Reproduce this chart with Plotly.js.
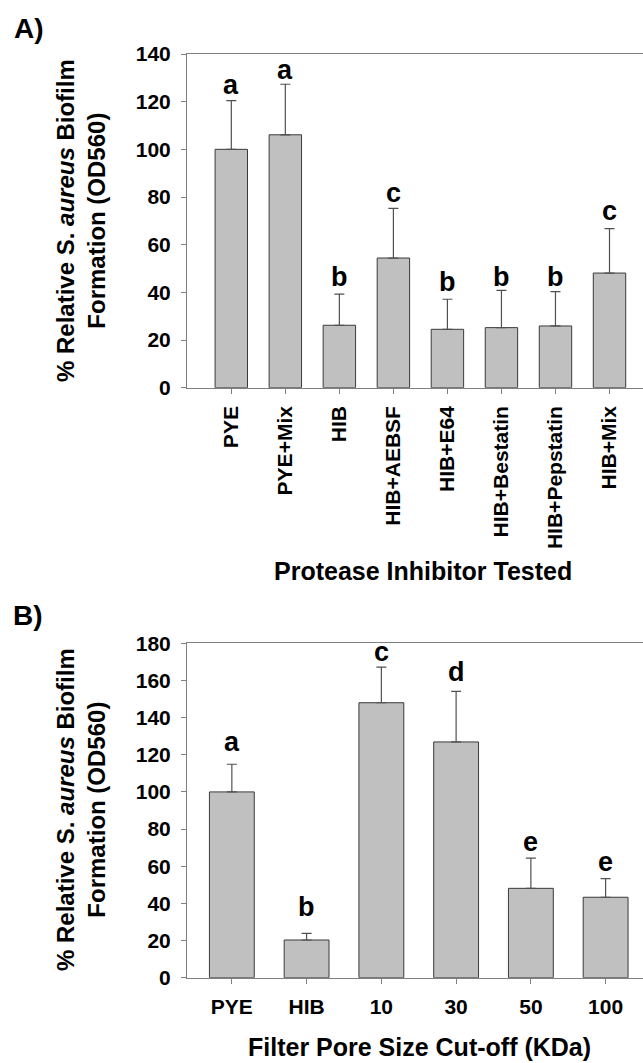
<!DOCTYPE html>
<html>
<head>
<meta charset="utf-8">
<script src="https://cdn.plot.ly/plotly-3.0.1.min.js"></script>
<style>html,body{margin:0;padding:0;background:#fff;}#chart{width:643px;height:1063px;}</style>
</head>
<body>
<div id="chart"></div>
<script>
// Panel A data
var catsA = ['PYE','PYE+Mix','HIB','HIB+AEBSF','HIB+E64','HIB+Bestatin','HIB+Pepstatin','HIB+Mix'];
var meanA = [100, 106.1, 26.2, 54.4, 24.5, 25.2, 25.9, 48.1];
var errA = [20.4, 21.2, 13.1, 20.8, 12.6, 15.6, 14.4, 18.6];
var lettersA = ['a','a','b','c','b','b','b','c'];
var letterYA = [122.8, 129.1, 42.4, 77.3, 40.3, 42.4, 42.4, 70.1];

// Panel B data
var catsB = ['PYE','HIB','10','30','50','100'];
var meanB = [100, 20.3, 148.0, 126.9, 48.1, 43.3];
var errB = [14.9, 3.6, 19.2, 27.2, 16.3, 10.0];
var lettersB = ['a','b','c','d','e','e'];
var letterYB = [121.6, 32.8, 170.1, 159.3, 67.8, 57.1];

var FONT = 'Liberation Sans, Arial, sans-serif';
var barFill = '#c0c0c0', barLine = '#3a3a3a', axisCol = '#808080', errCol = '#505050';

function barTrace(cats, vals, errs, xa, ya) {
  return {
    type: 'bar', x: cats, y: vals, xaxis: xa, yaxis: ya,
    width: 0.6,
    marker: {color: barFill, line: {color: barLine, width: 1}},
    error_y: {type: 'data', array: errs, arrayminus: errs.map(function(){return 0;}),
              symmetric: false, color: errCol, thickness: 1.2, width: 5},
    hoverinfo: 'x+y'
  };
}

var data = [barTrace(catsA, meanA, errA, 'x', 'y'), barTrace(catsB, meanB, errB, 'x2', 'y2')];

var tickFont = {family: FONT, size: 21, color: '#000', weight: 'bold'};
function xAxis(range, angle, anchor, standoff) {
  return {type: 'category', domain: [187/643, 1], range: range, anchor: anchor,
    showline: true, linecolor: axisCol, linewidth: 1, mirror: true,
    ticks: 'outside', ticklen: 5, tickcolor: axisCol, tickwidth: 1,
    tickangle: angle, tickfont: tickFont, showgrid: false, zeroline: false,
    ticklabelstandoff: standoff};
}
function yAxis(domain, range, dtick, anchor) {
  return {domain: domain, range: range, dtick: dtick, anchor: anchor,
    showline: true, linecolor: axisCol, linewidth: 1,
    ticks: 'outside', ticklen: 5, tickcolor: axisCol, tickwidth: 1,
    tickfont: tickFont, showgrid: false, zeroline: false, ticklabelstandoff: 6};
}

var annotations = [];
function addLetters(cats, letters, ys, xa, ya) {
  for (var i = 0; i < cats.length; i++) {
    annotations.push({x: i, y: ys[i], xref: xa, yref: ya, text: letters[i],
      showarrow: false, yanchor: 'bottom', xanchor: 'center', yshift: -7,
      font: {family: FONT, size: 27, color: '#000', weight: 'bold'}});
  }
}
addLetters(catsA, lettersA, letterYA, 'x', 'y');
addLetters(catsB, lettersB, letterYB, 'x2', 'y2');

var ytitle = '% Relative S. <i>aureus</i> Biofilm<br>Formation (OD560)';
var titleFont = {family: FONT, size: 24, color: '#000', weight: 'bold'};
annotations.push({xref: 'paper', yref: 'paper', x: 81/643, y: 1 - 221/1063, text: ytitle,
  textangle: -90, showarrow: false, xanchor: 'center', yanchor: 'middle', font: titleFont});
annotations.push({xref: 'paper', yref: 'paper', x: 81/643, y: 1 - 810/1063, text: ytitle,
  textangle: -90, showarrow: false, xanchor: 'center', yanchor: 'middle', font: titleFont});
annotations.push({xref: 'paper', yref: 'paper', x: 423/643, y: 1 - 571/1063, text: 'Protease Inhibitor Tested',
  showarrow: false, xanchor: 'center', yanchor: 'middle', font: {family: FONT, size: 25, color: '#000', weight: 'bold'}});
annotations.push({xref: 'paper', yref: 'paper', x: 419/643, y: 0, text: 'Filter Pore Size Cut-off (KDa)',
  showarrow: false, xanchor: 'center', yanchor: 'bottom', font: {family: FONT, size: 25, color: '#000', weight: 'bold'}});
annotations.push({xref: 'paper', yref: 'paper', x: 29/643, y: 1 - 28/1063, text: 'A)',
  showarrow: false, xanchor: 'center', yanchor: 'middle', font: {family: FONT, size: 28, color: '#000', weight: 'bold'}});
annotations.push({xref: 'paper', yref: 'paper', x: 28/643, y: 1 - 615/1063, text: 'B)',
  showarrow: false, xanchor: 'center', yanchor: 'middle', font: {family: FONT, size: 28, color: '#000', weight: 'bold'}});

var layout = {
  width: 643, height: 1063,
  margin: {l: 0, r: 0, t: 0, b: 0},
  paper_bgcolor: '#fff', plot_bgcolor: '#fff',
  showlegend: false,
  xaxis: xAxis([-0.82, 7.62], -90, 'y', 4),
  yaxis: yAxis([1 - 387.7/1063, 1 - 54/1063], [0, 140], 20, 'x'),
  xaxis2: xAxis([-0.6, 5.5], 0, 'y2', 5),
  yaxis2: yAxis([1 - 977.7/1063, 1 - 643.3/1063], [0, 180], 20, 'x2'),
  annotations: annotations
};

Plotly.newPlot('chart', data, layout, {displayModeBar: false, staticPlot: true});
</script>
</body>
</html>
